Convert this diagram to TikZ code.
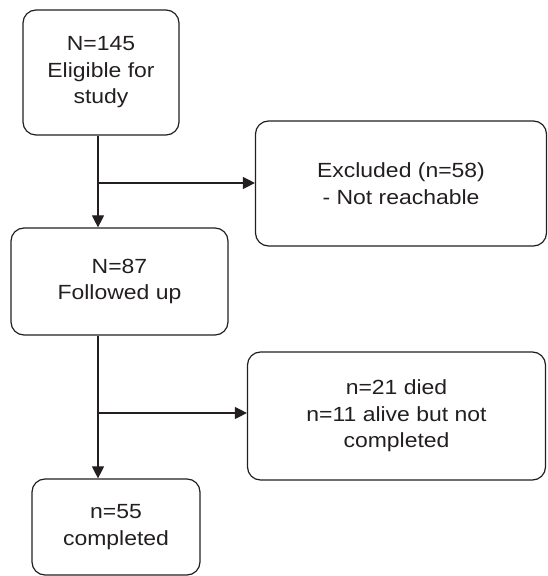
\documentclass[tikz,border=0pt]{standalone}
\usepackage{fontspec}
\setmainfont{Liberation Sans}[FakeStretch=1.12]
\usetikzlibrary{arrows.meta}
\definecolor{ink}{HTML}{231F20}
\begin{document}
\begin{tikzpicture}[x=1pt,y=1pt,
  box/.style={draw=ink, line width=1.2pt, rounded corners=13pt, inner sep=0pt,
    align=center, text=ink, font=\fontsize{20.5}{26.5}\selectfont},
  conn/.style={draw=ink, line width=1.2pt, -{Triangle[length=12pt,width=12pt]}}]
\useasboundingbox (0,0) rectangle (548,576);
\node[box, minimum width=156pt, minimum height=125pt] (b1) at (101,503.5) {N=145\\Eligible for\\study};
\node[box, minimum width=291pt, minimum height=125pt] (b2) at (401,392.5) {Excluded (n=58)\\- Not reachable};
\node[box, minimum width=217pt, minimum height=107pt] (b3) at (119.5,294.5) {N=87\\Followed up};
\node[box, minimum width=298pt, minimum height=128pt] (b4) at (396.5,160) {n=21 died\\n=11 alive but not\\completed};
\node[box, minimum width=168pt, minimum height=96pt] (b5) at (116,49) {n=55\\completed};
\coordinate (j1) at (98,393);
\coordinate (j2) at (98,163);
\draw[conn] (b1.south -| j1) -- (j1 |- b3.north);
\draw[conn] (j1) -- (j1 -| b2.west);
\draw[conn] (b3.south -| j2) -- (j2 |- b5.north);
\draw[conn] (j2) -- (j2 -| b4.west);
\end{tikzpicture}
\end{document}
